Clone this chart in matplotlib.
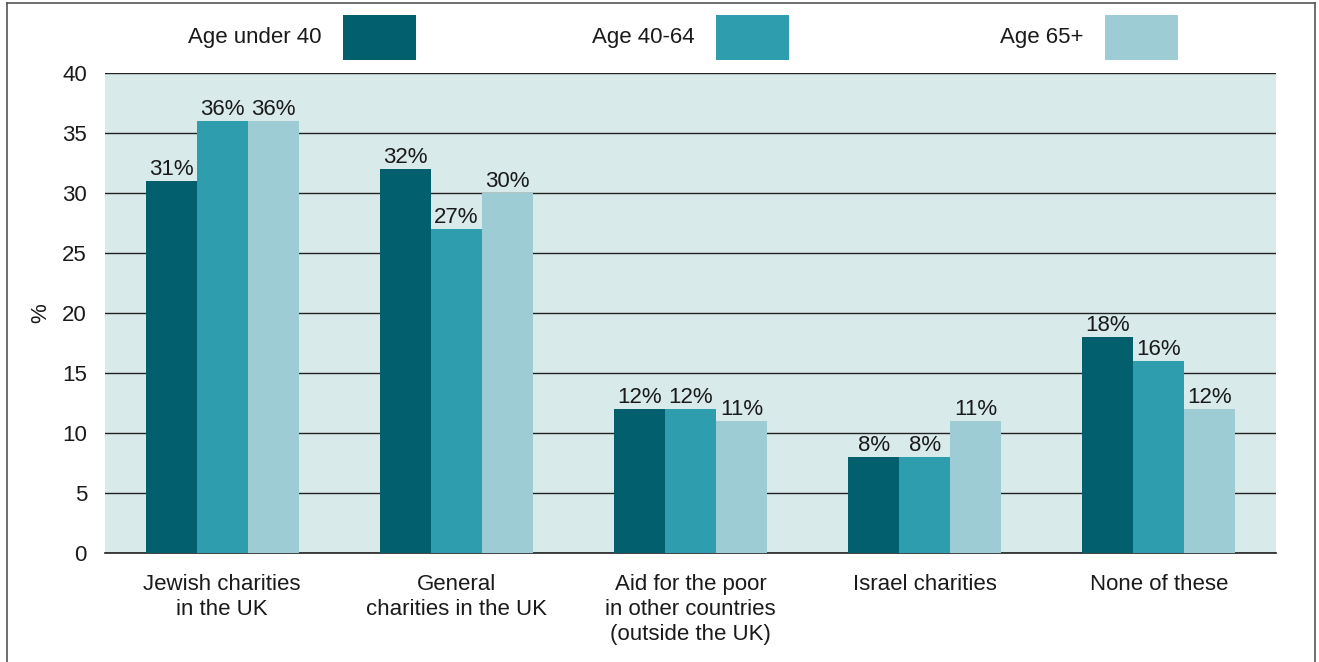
import matplotlib
matplotlib.use("Agg")
import matplotlib.pyplot as plt
from matplotlib.patches import Rectangle
import numpy as np

plt.rcParams['font.family'] = ['Liberation Sans', 'DejaVu Sans']

categories = ["Jewish charities\nin the UK", "General\ncharities in the UK",
              "Aid for the poor\nin other countries\n(outside the UK)",
              "Israel charities", "None of these"]
series_names = ["Age under 40", "Age 40-64", "Age 65+"]
under40 = [31, 32, 12, 8, 18]
age40_64 = [36, 27, 12, 8, 16]
age65 = [36, 30, 11, 11, 12]
yticks = [0, 5, 10, 15, 20, 25, 30, 35, 40]

colors = ["#02606E", "#2E9DAE", "#9ECCD4"]
bg = "#D8EAEA"
txt = '#1a1a1a'
FS = 16

W, H = 1319, 662
fig = plt.figure(figsize=(W/100, H/100), dpi=100)
ax = fig.add_axes([105/W, 1-553/H, (1276-105)/W, (553-73)/H])
ax.set_facecolor(bg)

x = np.arange(len(categories))
bw = 51/234.2
data = [under40, age40_64, age65]
for i, (vals, c) in enumerate(zip(data, colors)):
    pos = x + (i-1)*bw
    ax.bar(pos, vals, width=bw, color=c, zorder=3, linewidth=0)
    for p, v in zip(pos, vals):
        ax.text(p, v+0.1, f"{v}%", ha='center', va='bottom', fontsize=FS, color=txt, zorder=4)

ax.set_xlim(-0.5, 4.5)
ax.set_ylim(0, 40)
ax.set_yticks(yticks)
ax.set_yticklabels([str(t) for t in yticks], fontsize=FS, color=txt)
ax.grid(axis='y', color='#222222', linewidth=1, zorder=1)
ax.axhline(0, color='#222222', linewidth=1.2, zorder=1, clip_on=False)
ax.set_axisbelow(True)
for s in ax.spines.values():
    s.set_visible(False)
ax.tick_params(axis='y', length=0, pad=13)
ax.tick_params(axis='x', length=0, pad=15)
ax.set_xticks(x)
ax.set_xticklabels(categories, fontsize=FS, linespacing=1.27, color=txt)
ax.set_ylabel("%", fontsize=FS, labelpad=8, color=txt)

# legend
leg_text_right = [322, 695, 1084]
leg_patch_left = [343, 716, 1105]
for name, tr, pl, c in zip(series_names, leg_text_right, leg_patch_left, colors):
    fig.text(tr/W, 1-38/H, name, ha='right', va='center', fontsize=FS, color=txt)
    fig.patches.append(Rectangle((pl/W, 1-60/H), 73/W, 45/H, transform=fig.transFigure,
                                 facecolor=c, edgecolor='none'))

# frame
fc = '#555555'
fig.add_artist(plt.Line2D([7/W, 7/W], [0, 1-3/H], color=fc, lw=1.2, transform=fig.transFigure))
fig.add_artist(plt.Line2D([1315/W, 1315/W], [0, 1-3/H], color=fc, lw=1.2, transform=fig.transFigure))
fig.add_artist(plt.Line2D([7/W, 1315/W], [1-3/H, 1-3/H], color=fc, lw=1.2, transform=fig.transFigure))

fig.savefig("out.png", dpi=100)
